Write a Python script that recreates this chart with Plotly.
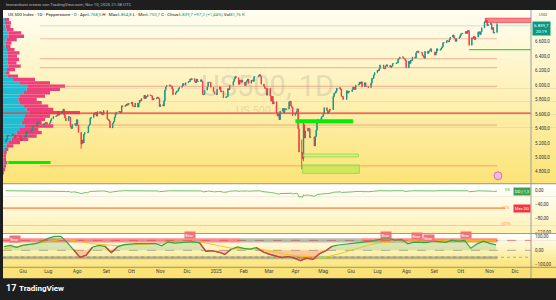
import numpy as np
import pandas as pd
import plotly.graph_objects as go

# ===================== DATA =====================
holidays = ["2024-05-27", "2024-06-19", "2024-07-04", "2024-09-02", "2024-11-28", "2024-12-25",
            "2025-01-01", "2025-01-09", "2025-01-20", "2025-02-17", "2025-04-18", "2025-05-26",
            "2025-06-19", "2025-07-04", "2025-09-01"]
first_open = 5233.0
closes_2024_05 = [5221, 5247, 5308, 5297, 5303, 5308, 5321, 5307, 5268, 5305, 5306, 5267, 5235, 5278]
closes_2024_06 = [5283, 5291, 5354, 5352, 5347, 5360, 5375, 5421, 5434, 5431, 5473, 5487, 5473, 5465, 5448, 5469, 5478, 5483, 5460]
closes_2024_07 = [5475, 5509, 5537, 5567, 5572, 5577, 5634, 5585, 5615, 5631, 5667, 5589, 5545, 5505, 5564, 5556, 5427, 5400, 5459, 5464, 5436, 5522]
closes_2024_08 = [5446, 5347, 5186, 5240, 5199, 5319, 5344, 5344, 5434, 5455, 5543, 5554, 5608, 5597, 5621, 5571, 5634, 5617, 5626, 5592, 5592, 5648]
closes_2024_09 = [5529, 5520, 5503, 5408, 5471, 5496, 5554, 5596, 5626, 5633, 5634, 5618, 5713, 5703, 5718, 5732, 5722, 5745, 5738, 5762]
closes_2024_10 = [5709, 5709, 5700, 5751, 5696, 5751, 5792, 5780, 5815, 5859, 5815, 5843, 5841, 5865, 5853, 5851, 5797, 5810, 5808, 5823, 5832, 5813, 5705]
closes_2024_11 = [5729, 5712, 5783, 5929, 5973, 5996, 6001, 5984, 5985, 5949, 5870, 5894, 5917, 5917, 5949, 5969, 5987, 6021, 5999, 6032]
closes_2024_12 = [6047, 6050, 6086, 6075, 6090, 6053, 6034, 6084, 6051, 6051, 6074, 6051, 5872, 5867, 5931, 5975, 6040, 6037, 5971, 5907, 5882]
closes_2025_01 = [5869, 5942, 5975, 5909, 5918, 5827, 5837, 5843, 5950, 5937, 5997, 6049, 6086, 6119, 6101, 6012, 6068, 6039, 6071, 6041]
closes_2025_02 = [5994, 6037, 6061, 6084, 6026, 6066, 6068, 6052, 6115, 6115, 6129, 6144, 6118, 6013, 5983, 5955, 5956, 5861, 5955]
closes_2025_03 = [5850, 5779, 5843, 5739, 5770, 5615, 5572, 5599, 5522, 5639, 5675, 5615, 5675, 5663, 5668, 5768, 5777, 5712, 5693, 5581, 5612]
closes_2025_04 = [5633, 5671, 5397, 5074, 5062, 4982, 5457, 5268, 5363, 5406, 5397, 5276, 5283, 5158, 5288, 5376, 5485, 5525, 5529, 5561, 5569]
closes_2025_05 = [5604, 5687, 5650, 5607, 5631, 5664, 5660, 5844, 5886, 5892, 5917, 5958, 5963, 5940, 5845, 5842, 5802, 5922, 5889, 5912, 5912]
closes_2025_06 = [5936, 5970, 5971, 5939, 6000, 6006, 6039, 6022, 6045, 5977, 6033, 5983, 5981, 5967, 6025, 6092, 6092, 6141, 6173, 6205]
closes_2025_07 = [6198, 6227, 6279, 6230, 6226, 6263, 6280, 6260, 6268, 6244, 6264, 6297, 6297, 6306, 6309, 6359, 6363, 6389, 6390, 6371, 6362, 6339]
closes_2025_08 = [6238, 6330, 6299, 6345, 6340, 6389, 6374, 6446, 6466, 6469, 6450, 6449, 6411, 6396, 6370, 6467, 6439, 6466, 6481, 6502, 6460]
closes_2025_09 = [6416, 6448, 6502, 6482, 6495, 6512, 6532, 6587, 6584, 6615, 6607, 6600, 6632, 6664, 6694, 6656, 6638, 6605, 6644, 6661, 6688]
closes_2025_10 = [6711, 6715, 6716, 6740, 6714, 6753, 6735, 6553, 6654, 6644, 6671, 6630, 6664, 6736, 6735, 6699, 6738, 6792, 6875, 6891, 6890, 6822, 6840]
closes_2025_11 = [6852, 6771, 6796, 6720, 6729, 6839.7]
# notable wicks: date -> (high, low)
wicks = {"2024-08-05": (5312, 5119), "2025-04-07": (5246, 4835), "2025-04-09": (5481, 4950),
         "2025-10-10": (6764, 6550), "2025-10-29": (6920, 6870), "2025-11-10": (6865, 6751)}

# volume profile (bins of 46 pts from 4790 upward) : up volume / down volume (relative widths)
vp_up = [0.3, 0.3, 1, 1.7, 1, 1, 1, 2, 3.7, 5.3, 8.7, 12, 13.7, 17, 22, 18.7, 20.3, 22, 27, 23.7,
         20.3, 17, 15.3, 17, 20.3, 23.7, 25, 17, 10, 5, 2.5, 4, 5.3, 4.5, 5, 4.5, 5, 4, 2.5, 2.5,
         3.7, 5.3, 5.3, 3.5, 2.5, 2, 2]
vp_down = [0.5, 1.4, 2, 2.6, 2, 1.3, 2.7, 3.3, 6.6, 11.7, 16.6, 21.7, 25, 18.3, 28.3, 20, 21.7, 25, 50, 26.6,
           25, 21.7, 18.4, 25, 26.7, 33.3, 37, 30, 22, 10, 4, 8, 12.4, 9, 11, 9.5, 11.5, 7.5, 5, 6,
           10, 15.7, 13, 7, 5, 6, 4]
vp_low, vp_step = 4790, 46

# price levels
salmon_levels = [6641, 6366, 6243, 5982, 5446, 4882]
poc_level = 5611
teal_level = 6820
green_level = 6490

# oscillator (weekly readings, Mondays from 2024-05-13)
osc_values = [26, 34, 21, 36, 41, 47, 61, 83, 97, 97, 55, 7, -48, -34, 21, 34, 28, -17, 24, 39,
              45, 46, 47, 48, 47, 31, 59, 50, 55, 57, 58, 52, -7, -3, -12, -28, 7, 24, 14, 9,
              19, -10, -26, -37, -50, -43, -54, -72, -55, -62, -24, -3, 28, 37, 41, 44, 50, 57, 62, 72,
              79, 83, 71, 76, 45, 57, 57, 53, 64, 59, 55, 71, 64, 69, 14, 45, 64, 48, 38]
osc_signal = [10, 17, 24, 31, 38, 46, 55, 63, 70, 75, 76, 70, 62, 53, 46, 41, 38, 34.5, 33, 34.5,
              36, 38, 40, 43, 46, 48, 52, 55, 58, 60, 61, 59, 50, 39, 30, 21, 15, 12, 10, 9,
              8, 7, -3, -14, -24, -31, -36, -41, -46, -50, -52, -48, -38, -26, -14, 0, 14, 28, 39, 48,
              54, 58, 61, 63, 64, 64, 66, 66, 67, 68, 68, 69, 69, 69, 68, 68, 68, 67, 67]
bear_dates = ["2024-05-24", "2024-12-04", "2025-07-10", "2025-08-13", "2025-08-27", "2025-10-07"]
bear_values = [76, 103, 107, 100, 83, 103]
upper_band = (55, 83)
lower_band = (-62, -41)
upper_segments = [("2024-05-09", "2025-01-29", "red"), ("2025-01-29", "2025-06-12", "grey"),
                  ("2025-06-12", "2025-11-11", "red")]
lower_segments = [("2024-05-09", "2025-04-25", "grey"), ("2025-04-25", "2025-05-12", "green"),
                  ("2025-05-12", "2025-11-11", "grey")]

price_ticks = [4800, 5000, 5200, 5400, 5600, 5800, 6000, 6200, 6400, 6600]
price_ticktext = ["4.800,0", "5.000,0", "5.200,0", "5.400,0", "5.600,0", "5.800,0", "6.000,0",
                  "6.200,0", "6.400,0", "6.600,0"]
dd_ticks = [0, -40, -80, -120]
dd_ticktext = ["0,00", "−40,00", "−80,00", "−120,00"]
osc_ticks = [100, 0, -100]
osc_ticktext = ["100,00", "0,00", "−100,00"]
month_ticks = ["2024-06-03", "2024-07-01", "2024-08-01", "2024-09-03", "2024-10-01", "2024-11-01",
               "2024-12-02", "2025-01-02", "2025-02-03", "2025-03-03", "2025-04-01", "2025-05-01",
               "2025-06-02", "2025-07-01", "2025-08-01", "2025-09-02", "2025-10-01", "2025-11-03",
               "2025-12-01"]
month_text = ["Giu", "Lug", "Ago", "Set", "Ott", "Nov", "Dic", "2025", "Feb", "Mar", "Apr", "Mag",
              "Giu", "Lug", "Ago", "Set", "Ott", "Nov", "Dic"]

# ===================== BUILD =====================
closes = (closes_2024_05 + closes_2024_06 + closes_2024_07 + closes_2024_08 + closes_2024_09 +
          closes_2024_10 + closes_2024_11 + closes_2024_12 + closes_2025_01 + closes_2025_02 +
          closes_2025_03 + closes_2025_04 + closes_2025_05 + closes_2025_06 + closes_2025_07 +
          closes_2025_08 + closes_2025_09 + closes_2025_10 + closes_2025_11)
dates = pd.bdate_range("2024-05-13", "2025-11-10", freq="C", holidays=holidays)
assert len(dates) == len(closes), (len(dates), len(closes))
closes = np.array(closes, dtype=float)
opens = np.concatenate([[first_open], closes[:-1]])
highs = np.maximum(opens, closes)
lows = np.minimum(opens, closes)
for i, d in enumerate(dates.strftime("%Y-%m-%d")):
    if d in wicks:
        h, l = wicks[d]
        highs[i] = max(highs[i], h)
        lows[i] = min(lows[i], l)
cs = pd.Series(closes)
drawdown = (cs / cs.cummax() - 1.0) * 100.0

vp_price = vp_low + vp_step * np.arange(len(vp_up))
osc_dates = pd.date_range("2024-05-13", periods=len(osc_values), freq="7D")
ov = np.array(osc_values, dtype=float)
osc_pos = np.maximum(ov, 0)
osc_neg = np.minimum(ov, 0)
red_mask = [(ov[i] < 0) or (i > 0 and ov[i - 1] < 0) or (i < len(ov) - 1 and ov[i + 1] < 0)
            for i in range(len(ov))]
osc_red = [v if m else None for v, m in zip(osc_values, red_mask)]

# ===================== FIGURE =====================
W, H = 556, 300
def P(x): return x / W
def Q(y): return 1 - y / H

X0, X1 = P(3), P(531)
RANGE = ["2024-05-10 03:36", "2025-12-17 16:48"]
RB = [dict(bounds=["sat", "mon"])]
FONT = "Roboto, Liberation Sans, sans-serif"
UP, DN = "#089981", "#f23645"

fig = go.Figure()
fig.add_trace(go.Bar(y=vp_price, x=vp_up, base=0, orientation="h", width=vp_step,
                     marker=dict(color="#20bcd6", line=dict(width=0)), xaxis="x", yaxis="y"))
fig.add_trace(go.Bar(y=vp_price, x=vp_down, base=vp_up, orientation="h", width=vp_step,
                     marker=dict(color="#ec3f7b", line=dict(width=0)), xaxis="x", yaxis="y"))
fig.add_trace(go.Candlestick(x=dates, open=opens, high=highs, low=lows, close=closes,
                             xaxis="x2", yaxis="y", whiskerwidth=0,
                             increasing=dict(line=dict(color=UP, width=0.9), fillcolor=UP),
                             decreasing=dict(line=dict(color=DN, width=0.9), fillcolor=DN)))
fig.add_trace(go.Scatter(x=dates, y=drawdown, mode="lines", xaxis="x3", yaxis="y3",
                         line=dict(color="#4caf50", width=0.8)))
fig.add_trace(go.Scatter(x=osc_dates, y=osc_pos, mode="lines", fill="tozeroy", xaxis="x4", yaxis="y4",
                         line=dict(width=0), fillcolor="rgba(76,175,80,0.22)"))
fig.add_trace(go.Scatter(x=osc_dates, y=osc_neg, mode="lines", fill="tozeroy", xaxis="x4", yaxis="y4",
                         line=dict(width=0), fillcolor="rgba(242,54,69,0.22)"))
fig.add_trace(go.Scatter(x=osc_dates, y=osc_signal, mode="lines", xaxis="x4", yaxis="y4",
                         line=dict(color="#f5c20b", width=0.9)))
fig.add_trace(go.Scatter(x=osc_dates, y=osc_values, mode="lines", xaxis="x4", yaxis="y4",
                         line=dict(color="#2eaa3c", width=1.2)))
fig.add_trace(go.Scatter(x=osc_dates, y=osc_red, mode="lines", xaxis="x4", yaxis="y4",
                         connectgaps=False, line=dict(color="#e8323f", width=1.2)))

shapes = []
def gradient(y0, y1, c0, c1, n):
    for i in range(n):
        t = i / (n - 1)
        col = "rgb(%d,%d,%d)" % tuple(round(a + (b - a) * t) for a, b in zip(c0, c1))
        ya = y0 + (y1 - y0) * i / n
        yb = min(y1, y0 + (y1 - y0) * (i + 1) / n + 0.6)
        shapes.append(dict(type="rect", xref="paper", yref="paper", x0=P(3), x1=1,
                           y0=Q(yb), y1=Q(ya), fillcolor=col, line_width=0, layer="below"))

gradient(10, 185, (255, 253, 240), (252, 228, 120), 40)
gradient(185, 235, (255, 255, 252), (254, 242, 182), 12)
gradient(235, 269, (255, 255, 250), (252, 229, 122), 10)
shapes.append(dict(type="rect", xref="paper", yref="paper", x0=P(3), x1=1, y0=Q(280), y1=Q(269),
                   fillcolor="rgb(251,226,118)", line_width=0, layer="below"))

# middle pane reference lines
shapes.append(dict(type="line", xref="paper", yref="y3", x0=X0, x1=P(505), y0=-50, y1=-50,
                   line=dict(color="#ffa06c", width=1.6), layer="below"))
shapes.append(dict(type="line", xref="paper", yref="y3", x0=X0, x1=P(505), y0=-100, y1=-100,
                   line=dict(color="#ffc68c", width=1), layer="below"))
# bottom pane dashed reference lines
for lvl, col, dash in [(69, "rgba(242,54,69,0.75)", "dash"), (0, "rgba(120,120,120,0.7)", "dash"),
                       (-48, "#5cbf60", "dot")]:
    shapes.append(dict(type="line", xref="paper", yref="y4", x0=X0, x1=X1, y0=lvl, y1=lvl,
                       line=dict(color=col, width=0.8, dash=dash), layer="below"))
band_col = {"red": "rgba(242,54,69,0.55)", "grey": "rgba(110,110,110,0.45)", "green": "rgba(76,175,80,0.55)"}
for a, b, c in upper_segments:
    shapes.append(dict(type="rect", xref="x4", yref="y4", x0=a, x1=b, y0=upper_band[0], y1=upper_band[1],
                       fillcolor=band_col[c], line_width=0, layer="below"))
for a, b, c in lower_segments:
    shapes.append(dict(type="rect", xref="x4", yref="y4", x0=a, x1=b, y0=lower_band[0], y1=lower_band[1],
                       fillcolor=band_col[c], line_width=0, layer="below"))

# main pane levels & zones
for lvl in salmon_levels:
    shapes.append(dict(type="line", xref="x2", yref="y", x0="2024-06-20", x1="2025-11-10", y0=lvl, y1=lvl,
                       line=dict(color="rgba(240,100,95,0.42)", width=1.2), layer="above"))
shapes.append(dict(type="line", xref="x2", yref="y", x0="2024-06-20", x1=RANGE[1], y0=teal_level, y1=teal_level,
                   line=dict(color="rgba(90,190,175,0.35)", width=1), layer="above"))
shapes.append(dict(type="line", xref="paper", yref="y", x0=X0, x1=X1, y0=poc_level, y1=poc_level,
                   line=dict(color="#f23645", width=1.2), layer="above"))
shapes.append(dict(type="line", xref="x2", yref="y", x0="2025-10-10", x1=RANGE[1], y0=green_level, y1=green_level,
                   line=dict(color="#35dd35", width=1.2), layer="above"))
shapes.append(dict(type="rect", xref="x2", yref="y", x0="2025-10-28", x1=RANGE[1], y0=6865, y1=6926,
                   fillcolor="rgba(242,54,69,0.6)", line=dict(color="rgba(242,54,69,0.9)", width=0.8), layer="above"))
shapes.append(dict(type="rect", xref="x2", yref="y", x0="2025-03-31", x1="2025-06-03", y0=5473, y1=5528,
                   fillcolor="#00ee00", line_width=0, layer="above"))
shapes.append(dict(type="rect", xref="x2", yref="y", x0="2024-05-16", x1="2024-07-02", y0=4910, y1=4951,
                   fillcolor="#00ee00", line_width=0, layer="above"))
shapes.append(dict(type="rect", xref="x2", yref="y", x0="2025-04-09", x1="2025-06-09", y0=5006, y1=5047,
                   fillcolor="rgba(185,240,100,0.4)", line=dict(color="#86d94f", width=0.8), layer="above"))
shapes.append(dict(type="rect", xref="x2", yref="y", x0="2025-04-08", x1="2025-06-10", y0=4779, y1=4896,
                   fillcolor="rgba(170,235,60,0.55)", line=dict(color="#86d94f", width=0.8), layer="above"))
# small event icon
shapes.append(dict(type="circle", xref="paper", yref="paper", x0=P(494), x1=P(502), y0=Q(181), y1=Q(173),
                   fillcolor="#f2b6e6", line=dict(color="#c65fb0", width=0.8), layer="above"))
# separators
sep = "#9c9c9c"
for yy in (185, 235, 269):
    shapes.append(dict(type="line", xref="paper", yref="paper", x0=P(3), x1=1, y0=Q(yy), y1=Q(yy),
                       line=dict(color=sep, width=1.1), layer="above"))
shapes.append(dict(type="line", xref="paper", yref="paper", x0=X1, x1=X1, y0=Q(280), y1=Q(10),
                   line=dict(color=sep, width=1), layer="above"))

ann = []
def A(text, x, y, size=4.5, color="#333", xanchor="left", yanchor="middle", **kw):
    d = dict(text=text, x=x, y=y, xref="paper", yref="paper", showarrow=False, xanchor=xanchor,
             yanchor=yanchor, font=dict(family=FONT, size=size, color=color))
    d.update(kw)
    ann.append(d)

A("leonardozzi creato con TradingView.com, Nov 10, 2025 21:38 UTC", P(4), Q(5), size=4.3, color="#b8b8b8")
hdr = ('US 500 Index · 1D · Pepperstone · <span style="color:#555">O</span> · Apr'
       '<span style="color:#089981">6.768,5</span> H · Max<span style="color:#089981">6.864,8</span>'
       ' L · Min<span style="color:#089981">6.750,7</span> C · Chius<span style="color:#089981">6.839,7'
       ' +97,2 (+1,44%)</span> Vol<span style="color:#089981">81,76 K</span>')
A(hdr, P(6), Q(15), size=4.4, color="#131722")
A("US500, 1D", P(267), Q(87), size=29, color="rgba(150,150,150,0.27)", xanchor="center")
A("US 500 Index", P(268), Q(111), size=11, color="rgba(150,150,150,0.27)", xanchor="center")
A("USD", P(537), Q(15), size=4.3, color="#555")
A("6.839,7<br>20:19", P(531.5), Q(21.5), size=4.4, color="white", yanchor="top",
  bgcolor="#089981", borderpad=1)
A("0%", P(512), Q(190.5), size=4, color="#4caf50", xanchor="right")
A("DD (-1,3", P(531), Q(193), size=4, color="white", xanchor="right", bgcolor="#3fa34d", borderpad=1)
A("-50%", P(512), Q(208.5), size=4, color="#ff9a5c", xanchor="right")
A("Max DD", P(531), Q(210), size=4, color="white", xanchor="right", bgcolor="#f23645", borderpad=1)
A("-100%", P(513), Q(225.5), size=4, color="#ff9a5c", xanchor="right")
A("<b>17</b>", P(4), Q(290), size=9, color="white")
A("<b>TradingView</b>", P(17), Q(290), size=8, color="white")
for d, v in zip(bear_dates, bear_values):
    ann.append(dict(text="Bear", x=d, y=v, xref="x4", yref="y4", showarrow=False,
                    font=dict(family=FONT, size=3.8, color="white"), bgcolor="#f2707a", borderpad=0.6))

datex = dict(type="date", range=RANGE, rangebreaks=RB, showgrid=False, zeroline=False, domain=[X0, X1])
fig.update_layout(
    width=W, height=H, autosize=False, margin=dict(l=0, r=0, t=0, b=0),
    paper_bgcolor="#1e1e1e", plot_bgcolor="rgba(0,0,0,0)", showlegend=False, hovermode=False,
    barmode="overlay", font=dict(family=FONT),
    xaxis=dict(domain=[X0, X1], range=[0, 528], visible=False, anchor="y"),
    xaxis2=dict(datex, overlaying="x", anchor="y", visible=False, rangeslider=dict(visible=False)),
    xaxis3=dict(datex, anchor="y3", visible=False),
    xaxis4=dict(datex, anchor="y4", showticklabels=True, tickmode="array", tickvals=month_ticks,
                ticktext=month_text, ticks="", tickfont=dict(size=5, color="#444", family=FONT),
                showline=False),
    yaxis=dict(domain=[Q(185), Q(10)], range=[4635, 7040], side="right", anchor="x",
               tickmode="array", tickvals=price_ticks, ticktext=price_ticktext, ticks="",
               showgrid=False, zeroline=False, tickfont=dict(size=4.5, color="#333", family=FONT),
               ticklabelstandoff=3),
    yaxis3=dict(domain=[Q(235), Q(185)], range=[-123, 20], side="right", anchor="x3",
                tickmode="array", tickvals=dd_ticks, ticktext=dd_ticktext, ticks="",
                showgrid=False, zeroline=False, tickfont=dict(size=4.5, color="#333", family=FONT),
                ticklabelstandoff=3),
    yaxis4=dict(domain=[Q(269), Q(235)], range=[-117.3, 117.3], side="right", anchor="x4",
                tickmode="array", tickvals=osc_ticks, ticktext=osc_ticktext, ticks="",
                showgrid=False, zeroline=False, tickfont=dict(size=4.5, color="#333", family=FONT),
                ticklabelstandoff=3),
    shapes=shapes, annotations=ann,
)
fig.write_html("out.html")
